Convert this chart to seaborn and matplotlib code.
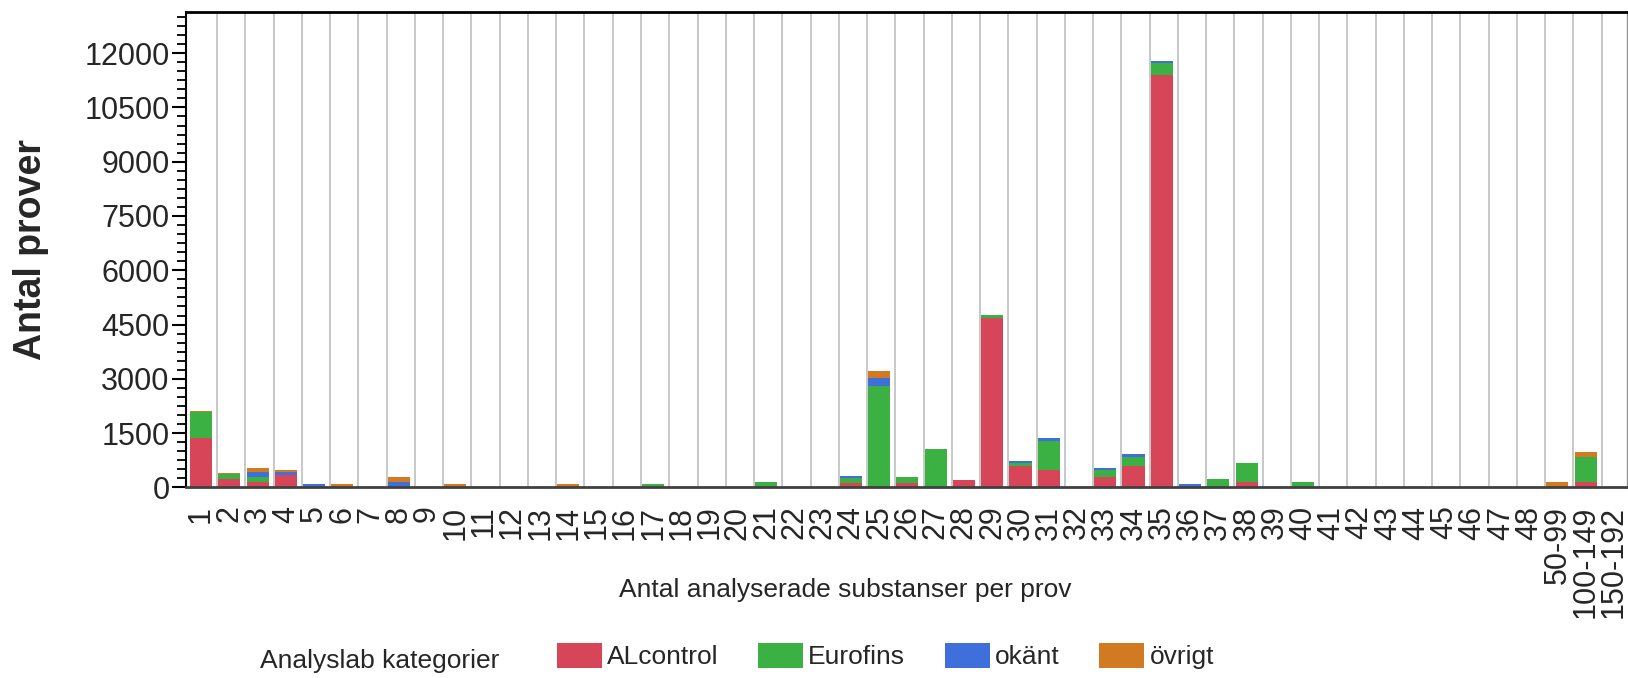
import numpy as np
import matplotlib
matplotlib.use("Agg")
import matplotlib.pyplot as plt
from matplotlib.patches import Patch
from matplotlib.ticker import MultipleLocator
import seaborn as sns


# ==========================================================
# DATA
# ==========================================================

kategorier = [str(i) for i in range(1, 49)] + ["50-99", "100-149", "150-192"]

alcontrol = [1360, 226, 160, 345, 0, 0, 0, 0, 0, 0,
             0, 0, 0, 0, 0, 0, 0, 0, 0, 0,
             0, 0, 0, 135, 0, 130, 0, 220, 4680, 600,
             483, 0, 282, 594, 11392, 0, 0, 160, 0, 0,
             0, 0, 0, 0, 0, 0, 0, 0, 0, 160, 0]

eurofins = [720, 133, 122, 0, 0, 0, 0, 0, 0, 0,
            0, 0, 0, 0, 0, 0, 90, 0, 0, 0,
            150, 0, 0, 115, 2811, 165, 1055, 0, 90, 74,
            801, 0, 202, 257, 340, 0, 240, 520, 0, 150,
            0, 0, 0, 0, 0, 0, 0, 0, 0, 690, 0]

okant = [0, 0, 138, 91, 90, 0, 0, 152, 0, 0,
         0, 0, 0, 0, 0, 0, 0, 0, 0, 0,
         0, 0, 0, 55, 204, 0, 0, 0, 0, 46,
         75, 0, 64, 74, 55, 90, 0, 0, 0, 0,
         0, 0, 0, 0, 0, 0, 0, 0, 0, 0, 0]

ovrigt = [45, 50, 110, 47, 0, 90, 0, 130, 0, 90,
          0, 0, 0, 90, 0, 0, 0, 0, 0, 0,
          0, 0, 0, 0, 202, 0, 0, 0, 0, 0,
          0, 0, 0, 0, 0, 0, 0, 0, 0, 0,
          0, 0, 0, 0, 0, 0, 0, 0, 160, 138, 0]

lab_namn = ["ALcontrol", "Eurofins", "okänt", "övrigt"]
lab_farger = ["#d64558", "#3bb143", "#3f6fdb", "#d17a22"]


# ==========================================================
# GRAFIK
# ==========================================================

sns.set_style("white")
plt.rcParams["font.family"] = ["Liberation Sans", "DejaVu Sans"]

fig = plt.figure(figsize=(16.28, 6.78), dpi=100)
ax = fig.add_axes([0.1143, 0.281, 0.885, 0.701])

bottom = np.zeros(len(kategorier))

for namn, varden, farg in zip(lab_namn, [alcontrol, eurofins, okant, ovrigt], lab_farger):

    sns.barplot(
        x=kategorier,
        y=varden,
        order=kategorier,
        bottom=bottom,
        color=farg,
        saturation=1,
        width=0.78,
        linewidth=0,
        errorbar=None,
        ax=ax
    )

    bottom = bottom + np.array(varden)

ax.set_xlim(-0.53, 50.46)
ax.set_ylim(0, 13130)

# vertikala rutnatslinjer mellan staplarna
ax.set_xticks(np.arange(1, len(kategorier)) - 0.43, minor=True)
ax.grid(False)
ax.grid(True, which="minor", axis="x", color="#c8c8c8", linewidth=1.4)
ax.set_axisbelow(True)

ax.yaxis.set_major_locator(MultipleLocator(1500))
ax.yaxis.set_minor_locator(MultipleLocator(250))

ax.tick_params(axis="y", which="major", direction="out", length=10,
               width=1.5, labelsize=22, pad=2, left=True, color="black")
ax.tick_params(axis="y", which="minor", direction="out", length=6.5,
               width=1.3, left=True, color="black")
ax.tick_params(axis="x", which="both", length=0)
ax.tick_params(axis="x", which="major", labelsize=22, pad=13,
               labelrotation=90)

ax.set_xlabel("")
ax.set_ylabel("")

ax.spines["left"].set_color("black")
ax.spines["left"].set_linewidth(1.5)
ax.spines["bottom"].set_color("#404040")
ax.spines["bottom"].set_linewidth(2)
ax.spines["top"].set_color("black")
ax.spines["top"].set_linewidth(2)
ax.spines["right"].set_color("#909090")
ax.spines["right"].set_linewidth(1)

fig.text(31 / 1628, 1 - 250 / 678, "Antal prover", rotation=90,
         ha="center", va="center", fontsize=27, fontweight="bold")

fig.text(845 / 1628, 0.13, "Antal analyserade substanser per prov",
         ha="center", va="center", fontsize=19)

fig.text(260 / 1628, 1 - 661 / 678, "Analyslab kategorier",
         ha="left", va="center", fontsize=19)

handles = [
    Patch(facecolor=f, edgecolor="none", label=n)
    for n, f in zip(lab_namn, lab_farger)
]

fig.legend(
    handles=handles,
    loc="center left",
    bbox_to_anchor=(557 / 1628, 1 - 656 / 678),
    ncol=4,
    frameon=False,
    fontsize=19,
    handlelength=1.7,
    handleheight=1.1,
    handletextpad=0.2,
    columnspacing=1.5,
    borderpad=0,
    borderaxespad=0
)

fig.savefig("out.png", dpi=100)
